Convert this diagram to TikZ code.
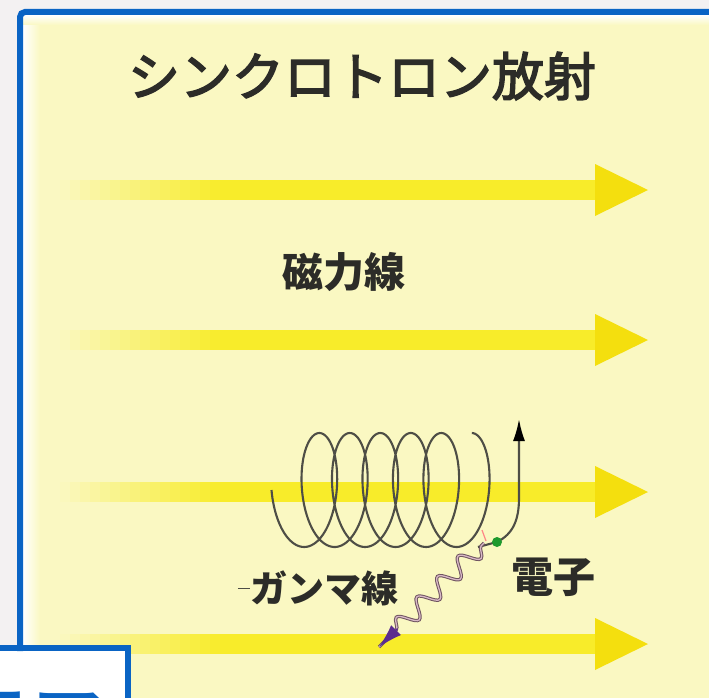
\documentclass[tikz,border=0pt]{standalone}
\usepackage{fontspec}
\newfontfamily\jp{Noto Sans CJK JP}
\newfontfamily\jpmed{Noto Sans CJK JP}[FakeBold=3]
\usetikzlibrary{arrows.meta,decorations.pathmorphing,calc}

\definecolor{bgout}{HTML}{F3F1F2}
\definecolor{frameblue}{HTML}{0A64C4}
\definecolor{panel}{HTML}{FAF8C2}
\definecolor{shaftyel}{HTML}{F8EC2A}
\definecolor{headyel}{HTML}{F4DF0E}
\definecolor{ink}{HTML}{2C2C28}
\definecolor{coil}{HTML}{4E4E46}
\definecolor{wave}{HTML}{6E5360}
\definecolor{wavein}{HTML}{D8B9C6}
\definecolor{tipviolet}{HTML}{5B2C8F}
\definecolor{dotgreen}{HTML}{1E9A2E}

\begin{document}
\begin{tikzpicture}[x=1pt,y=-1pt,
  jptext/.style={inner sep=0pt, text=ink},
  coilline/.style={draw=coil, line width=2.1pt},
  framestroke/.style={draw=frameblue, line width=6pt},
  photon/.style={draw=wave, line width=1pt, double=wavein, double distance=1.3pt,
    decorate, decoration={snake, amplitude=9pt, segment length=29pt, pre length=4pt, post length=24pt}}]
\useasboundingbox (0,0) rectangle (709,698);
\clip (0,0) rectangle (709,698);

% page background, frame interior and the yellow panel
\fill[bgout] (0,0) rectangle (709,698);
\fill[white] (20,12) rectangle (709,698);
\fill[panel] (37,22) rectangle (709,698);
\shade[left color=white, right color=panel] (23,22) rectangle (40,698);
\shade[top color=white, bottom color=panel] (23,15) rectangle (709,25);

% magnetic field lines: yellow arrows fading in from the left
\foreach \yy in {190,340,492,644} {
  \foreach \s in {0,...,15} {
    \pgfmathsetmacro{\mix}{(\s+0.5)*100/16}
    \fill[shaftyel!\mix!panel] ({60+10*\s},{\yy-10}) rectangle ({71+10*\s},{\yy+10});
  }
  \fill[shaftyel] (220,{\yy-10}) rectangle (600,{\yy+10});
  \fill[headyel] (595,{\yy-26}) -- (648,\yy) -- (595,{\yy+26}) -- cycle;
}

% title and labels
\node[jptext, font=\jpmed\fontsize{52}{60}\selectfont] (title) at (362,76) {シンクロトロン放射};
\node[jptext, font=\jp\bfseries\fontsize{41}{48}\selectfont] (field) at (344,272) {磁力線};
\node[jptext, font=\jp\bfseries\fontsize{42}{48}\selectfont] (electron) at (553,577) {電子};
\node[jptext, font=\jp\bfseries\fontsize{37}{44}\selectfont] (gamma) at (324,588) {ガンマ線};
\draw[coil, line width=1pt] ($(gamma.west)+(-12,0)$) -- (gamma.west);

% electron spiralling around the field line
\draw[coilline] plot[domain=0:36.128, samples=500, smooth]
  ({296.5+4.85*\x-25*cos(\x r)}, {490+57*sin(\x r)});

% exit of the electron with its green marker
\coordinate (ebot) at (478,547);
\coordinate (edot) at (497,542);
\coordinate (eup) at (519,419);
\draw[coilline, -{Latex[length=22pt,width=12pt,color=black]}]
  (ebot) -- (edot) .. controls (513,534) and (519,520) .. (519,498) -- (eup);

% emitted gamma ray
\coordinate (gstart) at (484,543);
\coordinate (gend) at (379,647);
\draw[draw=pink!70!red, line width=1.2pt] (482,530) -- (486,541);
\draw[photon] (gstart) -- (gend);
\draw[tipviolet, line width=1.5pt, -{Latex[length=24pt,width=14pt]}]
  ($(gend)!26pt!(gstart)$) -- (gend);
\fill[dotgreen] (edot) circle (5);

% lower caption box
\fill[white] (-10,648) rectangle (128,710);
\node[anchor=base west, inner sep=0pt, text=frameblue,
  font=\jp\bfseries\fontsize{70}{80}\selectfont] (boxtext) at (-38,746) {テア};
\draw[framestroke] (-10,648) -- (128,648) -- (128,710);

% outer frame
\draw[framestroke, rounded corners=5pt] (20,651) -- (20,12) -- (720,12);
\end{tikzpicture}
\end{document}
